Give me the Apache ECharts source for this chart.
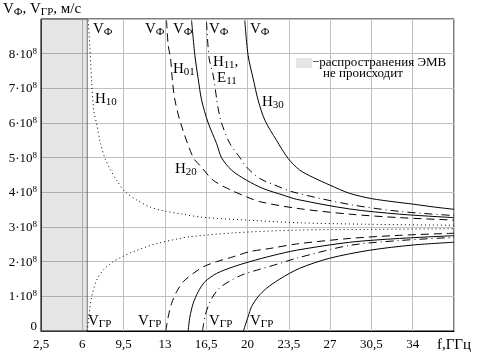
<!DOCTYPE html>
<html><head><meta charset="utf-8">
<script src="https://cdn.jsdelivr.net/npm/echarts@6/dist/echarts.min.js"></script>
<style>html,body{margin:0;padding:0;background:#fff}#c{width:477px;height:356px}</style>
</head><body><div id="c"></div>
<script>
// ---- data (velocities in units of 1e8 m/s, frequency in GHz) ----
const xTickValues = [2.5, 6, 9.5, 13, 16.5, 20, 23.5, 27, 30.5, 34];
const yTickValues = [0, 1, 2, 3, 4, 5, 6, 7, 8];
const cutoffH10 = 6.42;

const fH10ph = [6.50,6.65,6.79,6.99,7.2,7.55,7.9,8.3,8.9,9.66,10.6,11.72,12.84,14.5,16.2,20.4,24.5,30,37.5];
const vH10ph = [8.96,8.15,7.18,6.32,6.0,5.4,5.0,4.7,4.35,4.01,3.78,3.58,3.47,3.37,3.28,3.19,3.12,3.08,3.05];
const fH10gr = [6.42,6.59,6.79,7.22,7.78,8.62,9.38,10.32,11.45,12.4,14.27,15.12,18.78,24.15,30,37.5];
const vH10gr = [0,0.51,0.99,1.47,1.76,2.0,2.14,2.29,2.43,2.53,2.67,2.72,2.83,2.91,2.93,2.95];

const fH20ph = [13.14,13.28,13.48,13.65,13.85,14.33,15.4,15.96,17.09,18.5,19.92,21.05,24.15,28.66,32.9,37.5];
const vH20ph = [8.96,8.24,7.86,7.18,6.66,6.0,5.0,4.78,4.35,4.08,3.87,3.73,3.54,3.37,3.27,3.20];
const fH20gr = [13.08,13.28,13.57,13.99,14.55,15.4,16.24,17.38,18.78,20.2,21.89,24.15,28.66,32.9,37.5];
const vH20gr = [0,0.41,0.80,1.13,1.42,1.66,1.85,2.0,2.14,2.29,2.38,2.51,2.67,2.76,2.82];

const fH01ph = [15.26,15.54,15.82,16.11,16.67,17.38,17.8,18.65,19.92,21.32,23.02,24.15,28.66,32.9,37.5];
const vH01ph = [8.96,7.95,7.28,6.66,6.0,5.41,5.0,4.64,4.35,4.11,3.92,3.80,3.52,3.37,3.27];
const fH01gr = [14.97,15.12,15.4,15.82,16.39,17.38,18.78,20.2,22.17,24.15,28.66,32.9,37.5];
const vH01gr = [0,0.41,0.80,1.13,1.42,1.66,1.85,2.0,2.18,2.33,2.56,2.67,2.75];

const fH11ph = [16.53,16.75,17.09,17.38,17.51,17.8,18.5,19.21,19.92,21.04,22.31,23.86,28.66,32.9,37.5];
const vH11ph = [8.91,7.86,7.38,6.71,6.42,6.0,5.41,5.07,4.73,4.40,4.21,4.01,3.65,3.45,3.33];
const fH11gr = [16.19,16.39,16.67,17.09,17.66,18.5,19.63,21.04,22.74,24.15,28.66,32.9,37.5];
const vH11gr = [0,0.41,0.72,1.01,1.25,1.44,1.63,1.78,1.95,2.1,2.47,2.61,2.70];

const fH30ph = [19.77,20.05,20.48,20.9,21.47,22.46,23.44,24.43,25.56,26.97,28.66,30.5,32.33,34.02,35.72,37.5];
const vH30ph = [8.96,7.95,7.28,6.66,6.08,5.5,4.98,4.64,4.43,4.21,3.97,3.82,3.73,3.66,3.58,3.51];
const fH30gr = [19.65,20.05,20.34,20.9,21.61,22.74,24.43,26.97,30.36,34.02,37.5];
const vH30gr = [0,0.41,0.70,0.99,1.23,1.5,1.81,2.10,2.33,2.48,2.56];

// ---- chart ----
const FONT = 'Liberation Serif';
const zip = (a, b) => a.map((x, i) => [x, b[i]]);
const SHADE = 'rgba(0,0,0,0.1)';

function line(name, f, v, type) {
  return {
    name, type: 'line', data: zip(f, v), symbol: 'none', smooth: 0.3,
    lineStyle: { color: '#000', width: 1, type: type },
    silent: true, animation: false, z: 3
  };
}
const DOT = [1, 3], DASH = [8, 5], DASHDOT = [8, 4, 1, 4];

const subRich = {
  v: { fontFamily: FONT, fontSize: 15, color: '#000', lineHeight: 16 },
  s: { fontFamily: FONT, fontSize: 11, color: '#000', lineHeight: 11, verticalAlign: 'bottom', padding: [0,0,0,0] }
};
function txt(x, y, text) {
  return { type: 'text', left: x, top: y, silent: true, z: 10,
    style: { text, rich: subRich, fill: '#000', font: '15px ' + FONT } };
}
const VF = '{v|V}{s|Ф}', VGR = '{v|V}{s|ГР}';

const chart = echarts.init(document.getElementById('c'), null, { renderer: 'canvas' });
chart.setOption({
  animation: false,
  backgroundColor: '#fff',
  grid: { left: 41, right: 23, top: 19, bottom: 25, show: true, borderColor: '#000', borderWidth: 1 },
  xAxis: {
    type: 'value', min: 2.5, max: 37.5, interval: 3.5,
    axisLine: { show: true, lineStyle: { color: '#000' } },
    axisTick: { show: false },
    splitLine: { show: true, lineStyle: { color: '#c0c0c0', width: 1 } },
    axisLabel: {
      fontFamily: FONT, fontSize: 13, color: '#000', margin: 7,
      formatter: v => {
        if (Math.abs(v - 37.5) < 1e-6) return '{u|f,ГГц}';
        return xTickValues.some(t => Math.abs(t - v) < 1e-6) ? String(v).replace('.', ',') : '';
      },
      rich: { u: { fontFamily: FONT, fontSize: 15, color: '#000', padding: [0, 0, 0, 0] } }
    }
  },
  yAxis: {
    type: 'value', min: 0, max: 9, interval: 1,
    axisLine: { show: true, lineStyle: { color: '#000' } },
    axisTick: { show: false },
    splitLine: { show: true, lineStyle: { color: '#c0c0c0', width: 1 } },
    axisLabel: {
      margin: 4, color: '#000',
      formatter: v => {
        if (!yTickValues.includes(v)) return '';
        if (v === 0) return '{z|0}';
        return '{a|' + v + '·10}{b|8}';
      },
      rich: {
        a: { fontFamily: FONT, fontSize: 13, color: '#000', lineHeight: 14, verticalAlign: 'bottom' },
        b: { fontFamily: FONT, fontSize: 9, color: '#000', lineHeight: 9, verticalAlign: 'top' },
        z: { fontFamily: FONT, fontSize: 13, color: '#000', padding: [0, 0, 8, 0] }
      }
    }
  },
  series: [
    Object.assign(line('H10 Vф', fH10ph, vH10ph, DOT), {
      markArea: { silent: true, z: 1,
        itemStyle: { color: SHADE, opacity: 1, borderColor: '#707070', borderWidth: 1 },
        data: [[{ xAxis: 2.5 }, { xAxis: cutoffH10 }]] }
    }),
    line('H10 Vгр', fH10gr, vH10gr, DOT),
    line('H20 Vф', fH20ph, vH20ph, DASH),
    line('H20 Vгр', fH20gr, vH20gr, DASH),
    line('H01 Vф', fH01ph, vH01ph, 'solid'),
    line('H01 Vгр', fH01gr, vH01gr, 'solid'),
    line('H11 Vф', fH11ph, vH11ph, DASHDOT),
    line('H11 Vгр', fH11gr, vH11gr, DASHDOT),
    line('H30 Vф', fH30ph, vH30ph, 'solid'),
    line('H30 Vгр', fH30gr, vH30gr, 'solid')
  ],
  graphic: [
    txt(3, 2, '{v|V}{s|Ф}{v|, V}{s|ГР}{v|, м/с}'),
    txt(93, 22, VF), txt(145, 22, VF), txt(173, 22, VF), txt(209, 22, VF), txt(250, 22, VF),
    txt(95, 92, '{v|H}{s|10}'),
    txt(173, 62, '{v|H}{s|01}'),
    txt(213, 55, '{v|H}{s|11}{v|,}'),
    txt(217, 71, '{v|E}{s|11}'),
    txt(175, 162, '{v|H}{s|20}'),
    txt(262, 95, '{v|H}{s|30}'),
    txt(88, 314, VGR), txt(138, 314, VGR), txt(209, 314, VGR), txt(250, 314, VGR),
    { type: 'rect', shape: { x: 296, y: 58, width: 16, height: 10 }, silent: true, z: 10,
      style: { fill: SHADE } },
    { type: 'text', left: 312, top: 56, silent: true, z: 10,
      style: { text: '−распространения ЭМВ', font: '13px ' + FONT, fill: '#000' } },
    { type: 'text', left: 323, top: 67, silent: true, z: 10,
      style: { text: 'не происходит', font: '13px ' + FONT, fill: '#000' } }
  ]
});
</script></body></html>
